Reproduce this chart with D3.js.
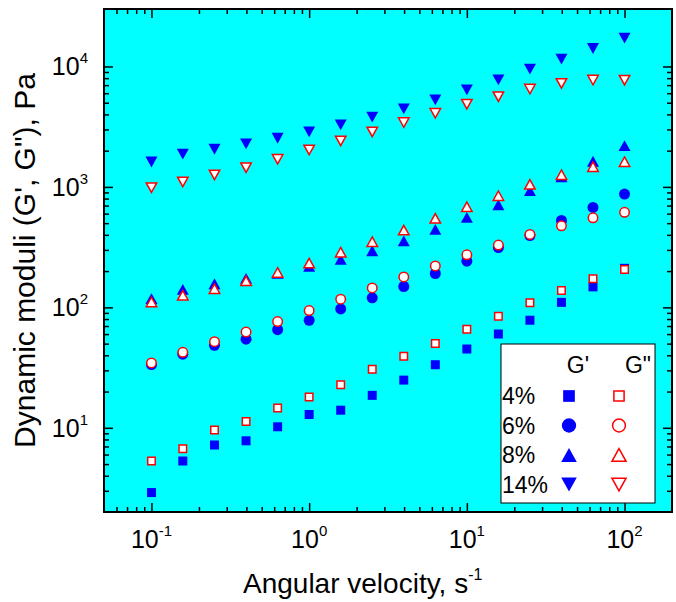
<!DOCTYPE html>
<html>
<head>
<meta charset="utf-8">
<script src="https://d3js.org/d3.v7.min.js"></script>
<style>
  body { margin: 0; background: #fff; }
  text { font-family: "Liberation Sans", Arial, sans-serif; fill: #000; }
  .tick-label { font-family: "Liberation Sans Narrow", "Arial Narrow", "Liberation Sans", sans-serif; }
</style>
</head>
<body>
<div id="chart"></div>
<script>
// angular velocity, s^-1
var freq = [0.1, 0.158, 0.251, 0.398, 0.631, 1, 1.585, 2.512, 3.981, 6.31, 10, 15.85, 25.12, 39.81, 63.1, 100];

// storage modulus G' (Pa)
var gp4  = [2.9, 5.3, 7.2, 7.8, 10.2, 12.9, 14.0, 18.6, 24.9, 33.4, 45.1, 60.1, 78.2, 110, 148, 211];
var gp6  = [33.5, 40.9, 48.4, 54.4, 65.3, 78, 97, 120, 149, 191, 242, 314, 395, 527, 676, 873];
var gp8  = [118, 141, 157, 174, 192, 219, 250, 295, 357, 444, 558, 711, 930, 1210, 1633, 2200];
var gp14 = [1610, 1870, 2055, 2275, 2535, 2865, 3270, 3795, 4450, 5290, 6400, 7740, 9500, 11500, 14100, 17200];

// loss modulus G'' (Pa)
var gpp4  = [5.3, 6.7, 9.6, 11.3, 14.6, 18.0, 22.8, 30.6, 39.2, 50.2, 65.8, 84.4, 109, 138, 173, 206];
var gpp6  = [34.6, 42.3, 51.9, 62.4, 76.2, 94, 117, 145, 179, 221, 273, 329, 403, 475, 554, 615];
var gpp8  = [111, 126, 143, 166, 195, 233, 287, 351, 438, 548, 684, 845, 1050, 1264, 1473, 1620];
var gpp14 = [985, 1100, 1257, 1445, 1698, 2030, 2410, 2865, 3420, 4090, 4865, 5620, 6490, 7230, 7710, 7700];

var concLabels = ["4%", "6%", "8%", "14%"];
var shapes = ["square", "circle", "up", "down"];
var xMajor = [0.1, 1, 10, 100];
var yMajor = [10, 100, 1000, 10000];
var xExp = ["-1", "0", "1", "2"];
var yExp = ["1", "2", "3", "4"];

var margin = {top: 9, right: 4, bottom: 90, left: 104},
    width = 676 - margin.left - margin.right,
    height = 602 - margin.top - margin.bottom;

var svg = d3.select("#chart")
  .append("svg")
    .attr("width", 676)
    .attr("height", 602)
  .append("g")
    .attr("transform", "translate(" + margin.left + "," + margin.top + ")");

var x = d3.scaleLog().domain([0.05, 200]).range([0, width]);
var y = d3.scaleLog().domain([2, 30000]).range([height, 0]);

svg.append("rect")
  .attr("width", width)
  .attr("height", height)
  .attr("fill", "#00ffff");

function minorTicks(lo, hi) {
  var out = [];
  for (var p = lo; p < hi; p *= 10) {
    for (var k = 2; k <= 9; k++) out.push(k * p);
  }
  return out;
}
var xMinor = minorTicks(0.01, 100).filter(function(v) { return v > 0.05 && v < 200; });
var yMinor = minorTicks(1, 10000).filter(function(v) { return v > 2 && v < 30000; });

// inward ticks on all four sides
function tickAxis(axis, scale, vals, len, tr) {
  svg.append("g")
    .attr("transform", tr)
    .call(axis(scale).tickValues(vals).tickSize(-len).tickFormat(""))
    .call(function(g) { g.select(".domain").remove(); })
    .selectAll("line").attr("stroke", "#000").attr("stroke-width", 1.5);
}
tickAxis(d3.axisBottom, x, xMajor, 9, "translate(0," + height + ")");
tickAxis(d3.axisBottom, x, xMinor, 5, "translate(0," + height + ")");
tickAxis(d3.axisTop, x, xMajor, 9, "translate(0,0)");
tickAxis(d3.axisTop, x, xMinor, 5, "translate(0,0)");
tickAxis(d3.axisLeft, y, yMajor, 9, "translate(0,0)");
tickAxis(d3.axisLeft, y, yMinor, 5, "translate(0,0)");
tickAxis(d3.axisRight, y, yMajor, 9, "translate(" + width + ",0)");
tickAxis(d3.axisRight, y, yMinor, 5, "translate(" + width + ",0)");

// tick labels 10^n
xMajor.forEach(function(v, i) {
  var t = svg.append("text")
    .attr("class", "tick-label")
    .attr("x", x(v))
    .attr("y", height + 36)
    .attr("text-anchor", "middle")
    .style("font-size", "25px");
  t.append("tspan").text("10");
  t.append("tspan").attr("dy", -12).style("font-size", "15px").text(xExp[i]);
});
yMajor.forEach(function(v, i) {
  var t = svg.append("text")
    .attr("class", "tick-label")
    .attr("x", -16)
    .attr("y", y(v) + 9)
    .attr("text-anchor", "end")
    .style("font-size", "25px");
  t.append("tspan").text("10");
  t.append("tspan").attr("dy", -12).style("font-size", "15px").text(yExp[i]);
});

svg.append("rect")
  .attr("width", width)
  .attr("height", height)
  .attr("fill", "none")
  .attr("stroke", "#000")
  .attr("stroke-width", 2);

// axis titles
var xt = svg.append("text")
  .attr("x", 243 - margin.left)
  .attr("y", height + 81)
  .style("font-size", "28px");
xt.append("tspan").text("Angular velocity, s");
xt.append("tspan").attr("dy", -13).style("font-size", "16px").text("-1");

svg.append("text")
  .attr("transform", "translate(" + (35 - margin.left) + "," + (height / 2) + ") rotate(-90)")
  .attr("text-anchor", "middle")
  .style("font-size", "30px")
  .text("Dynamic moduli (G', G\"), Pa");

// marker paths, centred on bounding box
function markerPath(shape, s) {
  var h = s / 2;
  if (shape == "square") return d3.symbol(d3.symbolSquare, s * s)();
  if (shape == "circle") return d3.symbol(d3.symbolCircle, Math.PI * h * h)();
  var th = s * 0.9 / 2;
  if (shape == "up") return "M0," + (-th) + "L" + h + "," + th + "L" + (-h) + "," + th + "Z";
  return "M0," + th + "L" + h + "," + (-th) + "L" + (-h) + "," + (-th) + "Z";
}
var markerSize = {square: 9, circle: 11, up: 12, down: 12};

var gpSets = [gp4, gp6, gp8, gp14];
var gppSets = [gpp4, gpp6, gpp8, gpp14];

var plot = svg.append("g");
gpSets.forEach(function(vals, i) {
  plot.selectAll(null)
    .data(vals)
    .enter()
    .append("path")
      .attr("d", markerPath(shapes[i], markerSize[shapes[i]]))
      .attr("transform", function(d, j) { return "translate(" + x(freq[j]) + "," + y(d) + ")"; })
      .attr("fill", "#0000ff");
});
gppSets.forEach(function(vals, i) {
  plot.selectAll(null)
    .data(vals)
    .enter()
    .append("path")
      .attr("d", markerPath(shapes[i], markerSize[shapes[i]] - 1.5))
      .attr("transform", function(d, j) { return "translate(" + x(freq[j]) + "," + y(d) + ")"; })
      .attr("fill", "#fff")
      .attr("stroke", "#ff0000")
      .attr("stroke-width", 1.5);
});

// legend
var legend = svg.append("g")
  .attr("transform", "translate(" + (501 - margin.left) + "," + (344 - margin.top) + ")");
legend.append("rect")
  .attr("width", 154)
  .attr("height", 159)
  .attr("fill", "#fff")
  .attr("stroke", "#000")
  .attr("stroke-width", 1);
legend.append("text").attr("x", 77).attr("y", 29).attr("text-anchor", "middle")
  .style("font-size", "23px").text("G'");
legend.append("text").attr("x", 137).attr("y", 29).attr("text-anchor", "middle")
  .style("font-size", "23px").text("G\"");
concLabels.forEach(function(lab, i) {
  var cy = 52 + i * 29.5;
  legend.append("text")
    .attr("x", 1)
    .attr("y", cy + 8)
    .style("font-size", "23px")
    .text(lab);
  legend.append("path")
    .attr("d", markerPath(shapes[i], markerSize[shapes[i]] * 1.3))
    .attr("transform", "translate(68," + cy + ")")
    .attr("fill", "#0000ff");
  legend.append("path")
    .attr("d", markerPath(shapes[i], markerSize[shapes[i]] * 1.3 - 1.5))
    .attr("transform", "translate(118," + cy + ")")
    .attr("fill", "#fff")
    .attr("stroke", "#ff0000")
    .attr("stroke-width", 1.5);
});
</script>
</body>
</html>
